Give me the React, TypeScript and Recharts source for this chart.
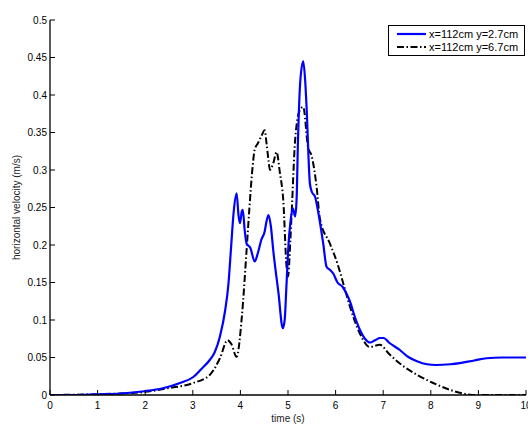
import React from 'react';
import { LineChart, Line, XAxis, YAxis, Legend, Label } from 'recharts';

const titleText = 'Monitoring points; Fr=0.3725, Re=1000, Sc=1';
const xLabelText = 'time (s)';
const yLabelText = 'horizontal velocity (m/s)';
const seriesNames = ['x=112cm y=2.7cm', 'x=112cm y=6.7cm'];

const timeTicks = [0, 1, 2, 3, 4, 5, 6, 7, 8, 9, 10];
const velocityTicks = [0, 0.05, 0.1, 0.15, 0.2, 0.25, 0.3, 0.35, 0.4, 0.45, 0.5];

const lowerTime = [0, 0.49, 0.99, 1.48, 1.98, 2.37, 2.73, 3.01, 3.17, 3.36, 3.46, 3.57, 3.68, 3.75, 3.8, 3.86, 3.92, 3.96, 3.99, 4.03, 4.05, 4.09, 4.13, 4.21, 4.3, 4.37, 4.44, 4.51, 4.55, 4.59, 4.64, 4.69, 4.8, 4.89, 4.93, 4.97, 5.01, 5.05, 5.1, 5.15, 5.18, 5.21, 5.26, 5.32, 5.36, 5.39, 5.46, 5.5, 5.57, 5.64, 5.74, 5.81, 5.88, 5.95, 6.04, 6.15, 6.23, 6.3, 6.4, 6.51, 6.63, 6.72, 6.83, 6.93, 7.01, 7.12, 7.35, 7.52, 7.71, 7.92, 8.12, 8.41, 8.61, 8.91, 9.17, 9.5, 10];
const lowerVelocity = [0, 0, 0.001, 0.002, 0.005, 0.009, 0.016, 0.024, 0.034, 0.047, 0.057, 0.078, 0.113, 0.149, 0.193, 0.245, 0.269, 0.24, 0.229, 0.245, 0.247, 0.22, 0.202, 0.196, 0.178, 0.19, 0.207, 0.218, 0.232, 0.24, 0.225, 0.193, 0.136, 0.089, 0.1, 0.149, 0.2, 0.23, 0.249, 0.238, 0.26, 0.34, 0.42, 0.445, 0.42, 0.384, 0.282, 0.271, 0.264, 0.242, 0.202, 0.171, 0.167, 0.162, 0.15, 0.144, 0.135, 0.125, 0.105, 0.087, 0.074, 0.07, 0.073, 0.076, 0.076, 0.07, 0.06, 0.051, 0.045, 0.041, 0.04, 0.041, 0.0425, 0.046, 0.049, 0.05, 0.05];

const upperTime = [0, 0.99, 1.48, 1.98, 2.47, 3.01, 3.36, 3.57, 3.73, 3.81, 3.92, 4.03, 4.13, 4.19, 4.25, 4.3, 4.37, 4.44, 4.51, 4.55, 4.59, 4.62, 4.69, 4.76, 4.83, 4.9, 4.97, 5.0, 5.05, 5.08, 5.15, 5.25, 5.32, 5.42, 5.5, 5.6, 5.67, 5.88, 6.04, 6.16, 6.3, 6.51, 6.72, 6.93, 7.12, 7.35, 7.71, 8.05, 8.4, 8.76, 8.96, 10];
const upperVelocity = [0, 0.001, 0.002, 0.004, 0.009, 0.016, 0.027, 0.049, 0.073, 0.068, 0.051, 0.104, 0.193, 0.25, 0.3, 0.327, 0.336, 0.345, 0.353, 0.335, 0.313, 0.3, 0.309, 0.324, 0.296, 0.26, 0.171, 0.158, 0.207, 0.247, 0.34, 0.38, 0.384, 0.331, 0.318, 0.278, 0.235, 0.202, 0.175, 0.149, 0.118, 0.082, 0.064, 0.067, 0.055, 0.042, 0.027, 0.016, 0.007, 0.001, 0, 0];

const lowerData = lowerTime.map((t, i) => ({ t, v: lowerVelocity[i] }));
const upperData = upperTime.map((t, i) => ({ t, v: upperVelocity[i] }));

const FONT = '"Liberation Sans", Arial, Helvetica, sans-serif';
const BLUE = '#0000ff';
const DASH = '7 2.5 1.5 2.5';

const BottomTick = (props: any) => {
  const { x, y, payload } = props;
  return (
    <g>
      <line x1={x} x2={x} y1={y} y2={y - 5} stroke="#000" strokeWidth={1} />
      <text x={x} y={y + 10} textAnchor="middle" dominantBaseline="central" fontSize={10} fontFamily={FONT} fill="#000">
        {payload.value}
      </text>
    </g>
  );
};
const TopTick = (props: any) => {
  const { x, y } = props;
  return <line x1={x} x2={x} y1={y} y2={y + 5} stroke="#000" strokeWidth={1} />;
};
const LeftTick = (props: any) => {
  const { x, y, payload } = props;
  return (
    <g>
      <line x1={x} x2={x + 5} y1={y} y2={y} stroke="#000" strokeWidth={1} />
      <text x={x - 3} y={y} textAnchor="end" dominantBaseline="central" fontSize={10} fontFamily={FONT} fill="#000">
        {payload.value}
      </text>
    </g>
  );
};
const RightTick = (props: any) => {
  const { x, y } = props;
  return <line x1={x} x2={x - 5} y1={y} y2={y} stroke="#000" strokeWidth={1} />;
};

const renderTitle = (props: any) => {
  const vb = props.viewBox || {};
  return (
    <text x={vb.x + vb.width / 2} y={vb.y - 12} textAnchor="middle" dominantBaseline="central" fontSize={10} fontFamily={FONT} fill="#222">
      {titleText}
    </text>
  );
};
const renderXLabel = (props: any) => {
  const vb = props.viewBox || {};
  return (
    <text x={vb.x + vb.width / 2} y={vb.y + 23} textAnchor="middle" dominantBaseline="central" fontSize={10} fontFamily={FONT} fill="#222">
      {xLabelText}
    </text>
  );
};
const renderYLabel = (props: any) => {
  const vb = props.viewBox || {};
  const cx = vb.x + 16;
  const cy = vb.y + vb.height / 2;
  return (
    <text x={cx} y={cy} transform={`rotate(-90 ${cx} ${cy})`} textAnchor="middle" dominantBaseline="central" fontSize={10} fontFamily={FONT} fill="#222">
      {yLabelText}
    </text>
  );
};

const LegendBox = () => (
  <div style={{ border: '1px solid #000', background: '#fff', width: 135, height: 28, fontFamily: FONT, fontSize: 11, color: '#000', boxSizing: 'content-box', paddingTop: 1 }}>
    {[0, 1].map((i) => (
      <div key={i} style={{ display: 'flex', alignItems: 'center', height: 13.4 }}>
        <svg width={39} height={10} style={{ display: 'block', flex: 'none' }}>
          {i === 0 ? (
            <line x1={8} x2={37} y1={5} y2={5} stroke={BLUE} strokeWidth={2.2} />
          ) : (
            <line x1={8} x2={37} y1={5} y2={5} stroke="#000" strokeWidth={2} strokeDasharray={DASH} />
          )}
        </svg>
        <span style={{ marginLeft: 1, whiteSpace: 'nowrap' }}>{seriesNames[i]}</span>
      </div>
    ))}
  </div>
);

export default function App() {
  return (
    <div style={{ position: 'absolute', left: 0, top: 0, width: 528, height: 425, background: '#fff', overflow: 'hidden' }}>
      <LineChart width={528} height={425} margin={{ top: 20, right: 2, bottom: 0, left: 0 }}>
        <XAxis
          dataKey="t"
          type="number"
          domain={[0, 10]}
          ticks={timeTicks}
          interval={0}
          height={30}
          tickSize={0}
          tickMargin={0}
          tick={<BottomTick />}
          axisLine={{ stroke: '#000', strokeWidth: 1.3 }}
          allowDataOverflow
        >
          <Label content={renderXLabel} />
        </XAxis>
        <XAxis
          xAxisId="top"
          orientation="top"
          type="number"
          domain={[0, 10]}
          ticks={timeTicks}
          interval={0}
          height={0}
          tickSize={0}
          tickMargin={0}
          tick={<TopTick />}
          axisLine={{ stroke: '#000', strokeWidth: 1.3 }}
          allowDataOverflow
        >
          <Label content={renderTitle} />
        </XAxis>
        <YAxis
          type="number"
          domain={[0, 0.5]}
          ticks={velocityTicks}
          interval={0}
          width={50}
          tickSize={0}
          tickMargin={0}
          tick={<LeftTick />}
          axisLine={{ stroke: '#000', strokeWidth: 1.3 }}
          allowDataOverflow
        >
          <Label content={renderYLabel} />
        </YAxis>
        <YAxis
          yAxisId="right"
          orientation="right"
          type="number"
          domain={[0, 0.5]}
          ticks={velocityTicks}
          interval={0}
          width={0}
          tickSize={0}
          tickMargin={0}
          tick={<RightTick />}
          axisLine={{ stroke: '#000', strokeWidth: 1.3 }}
          allowDataOverflow
        />
        <Line
          data={upperData}
          dataKey="v"
          type="monotone"
          stroke="#000"
          strokeWidth={2}
          strokeDasharray={DASH}
          dot={false}
          isAnimationActive={false}
          name={seriesNames[1]}
        />
        <Line
          data={lowerData}
          dataKey="v"
          type="monotone"
          stroke={BLUE}
          strokeWidth={2.2}
          dot={false}
          isAnimationActive={false}
          name={seriesNames[0]}
        />
        <Legend
          layout="vertical"
          align="center"
          verticalAlign="middle"
          content={<LegendBox />}
          wrapperStyle={{ top: 25, left: 388, width: 137, height: 30 }}
        />
      </LineChart>
    </div>
  );
}
